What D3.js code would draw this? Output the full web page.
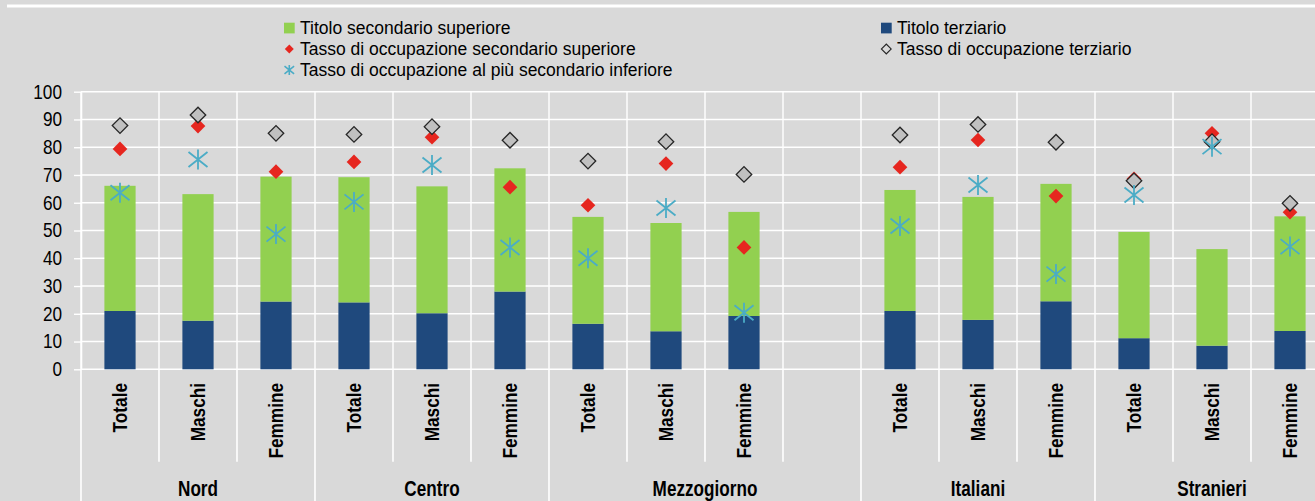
<!DOCTYPE html>
<html><head><meta charset="utf-8">
<script src="https://cdn.jsdelivr.net/npm/d3@7"></script>
<style>
body{margin:0;background:#d9d9d9;}
svg{display:block;font-family:"Liberation Sans",Arial,sans-serif;}
</style>
</head><body>
<svg id="chart" width="1315" height="501"></svg>
<script>
// ---- data ----
const slotLabels = ["Totale","Maschi","Femmine","Totale","Maschi","Femmine","Totale","Maschi","Femmine","","Totale","Maschi","Femmine","Totale","Maschi","Femmine"];
const slotGroups = ["Nord","Nord","Nord","Centro","Centro","Centro","Mezzogiorno","Mezzogiorno","Mezzogiorno","Mezzogiorno","Italiani","Italiani","Italiani","Stranieri","Stranieri","Stranieri"];
const groups = ["Nord","Centro","Mezzogiorno","Italiani","Stranieri"];
const titoloTerziario   = [21.0,17.5,24.4,24.1,20.2,28.0,16.4,13.7,19.2,null,21.0,17.8,24.5,11.2, 8.5,13.8];
const titoloSecondario  = [45.1,45.6,45.0,45.1,45.7,44.4,38.5,39.0,37.5,null,43.6,44.3,42.3,38.3,34.8,41.3];
const tassoSecondario   = [79.4,87.6,71.2,74.7,83.6,65.6,59.1,74.1,43.9,null,72.8,82.6,62.4,68.6,85.0,56.6];
const tassoTerziario    = [87.8,91.6,85.0,84.6,87.4,82.5,75.0,82.0,70.2,null,84.4,88.2,81.8,67.9,82.0,59.8];
const tassoInferiore    = [63.6,75.6,48.7,60.3,73.6,43.9,40.0,58.1,20.4,null,51.6,66.4,34.3,62.8,80.2,44.2];
const yTicks = [0,10,20,30,40,50,60,70,80,90,100];
const legendLabels = ["Titolo secondario superiore","Titolo terziario","Tasso di occupazione secondario superiore","Tasso di occupazione terziario","Tasso di occupazione al più secondario inferiore"];

// ---- styles ----
const C = {bg:"#d9d9d9", green:"#92d050", navy:"#1f497d", red:"#e6261f", grey:"#c0c0c0", greyStroke:"#262626", cyan:"#4bacc6", grid:"#ffffff"};

const svg = d3.select("#chart");
svg.append("rect").attr("width",1315).attr("height",501).attr("fill",C.bg);
svg.append("line").attr("x1",7).attr("x2",1315).attr("y1",6).attr("y2",6).attr("stroke","#fff").attr("stroke-width",3);

const n = slotLabels.length;
const left = 81, slot = 78;
const x = d3.scaleBand().domain(d3.range(n)).range([left, left + n*slot]).paddingInner(0.6).paddingOuter(0.3);
const step = x.step();
const xc = i => x(i) + x.bandwidth()/2;
const edge = i => x.range()[0] + i*step;
const y = d3.scaleLinear().domain([0,100]).range([369.3, 91.7]);
const y0 = y(0);

// gridlines
const grid = svg.append("g");
grid.selectAll("line.h").data(yTicks).join("line").attr("class","h")
  .attr("x1",left).attr("x2",edge(n)).attr("y1",d=>y(d)).attr("y2",d=>y(d))
  .attr("stroke",C.grid).attr("stroke-width",1.4);
grid.selectAll("line.v").data(d3.range(n+1)).join("line").attr("class","v")
  .attr("x1",edge).attr("x2",edge).attr("y1",y(100)).attr("y2",y0)
  .attr("stroke",C.grid).attr("stroke-width",1.4);

// category separators below axis
const groupEdges = [0,3,6,10,13,16];
grid.selectAll("line.s").data(d3.range(n+1)).join("line").attr("class","s")
  .attr("x1",edge).attr("x2",edge).attr("y1",y0)
  .attr("y2",i=>groupEdges.includes(i)?501:461.7)
  .attr("stroke",C.grid).attr("stroke-width",1.6);

// y axis
const ya = svg.append("g").attr("transform",`translate(${left},0)`)
  .call(d3.axisLeft(y).tickValues(yTicks).tickSize(7).tickSizeOuter(0).tickPadding(12));
ya.select(".domain").attr("stroke","#fff").attr("stroke-width",1.6);
ya.selectAll(".tick line").attr("stroke","#fff").attr("stroke-width",1.4);
ya.selectAll(".tick text").each(function(){
  const t = d3.select(this); const tx = +t.attr("x");
  t.attr("x",0).attr("transform",`translate(${tx},0) scale(0.86,1)`)
   .attr("font-size",20).attr("font-family","Liberation Sans, Arial, sans-serif").attr("fill","#000");
});

// stacked bars
const rows = d3.range(n).filter(i=>titoloTerziario[i]!=null).map(i=>({i, terz:titoloTerziario[i], sec:titoloSecondario[i]}));
const stacked = d3.stack().keys(["terz","sec"])(rows);
const colors = {terz:C.navy, sec:C.green};
svg.append("g").selectAll("g").data(stacked).join("g").attr("fill",s=>colors[s.key])
  .selectAll("rect").data(s=>s).join("rect")
  .attr("x",d=>x(d.data.i)).attr("width",x.bandwidth())
  .attr("y",d=>y(d[1])).attr("height",d=>y(d[0])-y(d[1]));

// markers
const idx = d3.range(n);
const diamond = s => d3.symbol(d3.symbolSquare, s)();
svg.append("g").selectAll("path").data(idx.filter(i=>tassoSecondario[i]!=null)).join("path")
  .attr("d",diamond(108)).attr("fill",C.red)
  .attr("transform",i=>`translate(${xc(i)},${y(tassoSecondario[i])}) rotate(45)`);
svg.append("g").selectAll("path").data(idx.filter(i=>tassoTerziario[i]!=null)).join("path")
  .attr("d",diamond(120)).attr("fill",C.grey).attr("stroke",C.greyStroke).attr("stroke-width",1.3)
  .attr("transform",i=>`translate(${xc(i)},${y(tassoTerziario[i])}) rotate(45)`);
const star = (a,b,c) => `M0,${-c}V${c}M${-a},${-b}L${a},${b}M${-a},${b}L${a},${-b}`;
svg.append("g").selectAll("path").data(idx.filter(i=>tassoInferiore[i]!=null)).join("path")
  .attr("d",star(9.5,7.5,10)).attr("fill","none").attr("stroke",C.cyan).attr("stroke-width",1.8)
  .attr("transform",i=>`translate(${xc(i)},${y(tassoInferiore[i])})`);

// category labels
svg.append("g").selectAll("text").data(idx.filter(i=>slotLabels[i])).join("text")
  .attr("transform",i=>`translate(${xc(i)},383) rotate(-90) scale(0.82,1)`)
  .attr("text-anchor","end").attr("dy","0.32em").attr("font-weight","bold").attr("font-size",21)
  .attr("fill","#000").text(i=>slotLabels[i]);
svg.append("g").selectAll("text").data(groups).join("text")
  .attr("transform",g=>{const is=idx.filter(i=>slotGroups[i]===g); return `translate(${(edge(is[0])+edge(is[is.length-1]+1))/2},496) scale(0.78,1)`;})
  .attr("text-anchor","middle").attr("font-weight","bold").attr("font-size",22).attr("fill","#000").text(g=>g);

// legend
const lg = svg.append("g").attr("font-size",17.5).attr("fill","#000");
const items = [
  {lab:legendLabels[0], x:284, yb:34, type:"sq", c:C.green},
  {lab:legendLabels[1], x:881, yb:34, type:"sq", c:C.navy},
  {lab:legendLabels[2], x:284, yb:55, type:"red"},
  {lab:legendLabels[3], x:881, yb:55, type:"grey"},
  {lab:legendLabels[4], x:284, yb:76, type:"star"}
];
items.forEach(it=>{
  const g = lg.append("g");
  const cx = it.x+5.3, cy = it.yb-6;
  if(it.type==="sq") g.append("rect").attr("x",it.x).attr("y",it.yb-11.3).attr("width",10.7).attr("height",10.7).attr("fill",it.c);
  if(it.type==="red") g.append("path").attr("d",diamond(40)).attr("fill",C.red).attr("transform",`translate(${cx},${cy}) rotate(45)`);
  if(it.type==="grey") g.append("path").attr("d",diamond(48)).attr("fill",C.bg).attr("stroke",C.greyStroke).attr("stroke-width",1.1).attr("transform",`translate(${cx},${cy}) rotate(45)`);
  if(it.type==="star") g.append("path").attr("d",star(4.8,3.8,5)).attr("fill","none").attr("stroke",C.cyan).attr("stroke-width",1.6).attr("transform",`translate(${cx},${cy})`);
  g.append("text").attr("x",it.x+16).attr("y",it.yb).text(it.lab);
});
</script>
</body></html>
